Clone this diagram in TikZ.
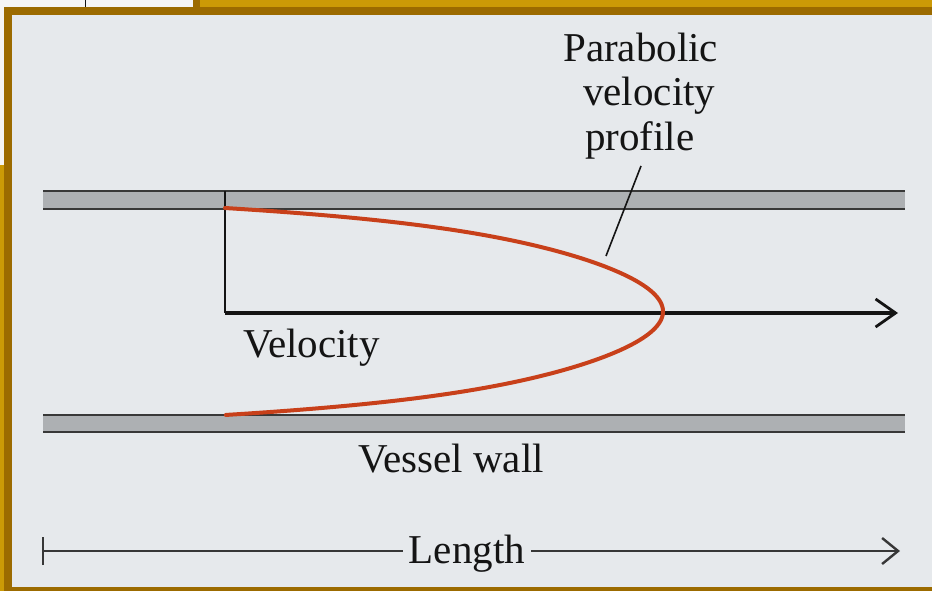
\documentclass[tikz,border=0pt]{standalone}
\usepackage{fontspec}
\setmainfont{Liberation Serif}
\usetikzlibrary{arrows.meta}
\definecolor{goldc}{HTML}{CC9A06}
\definecolor{brownc}{HTML}{9C6B00}
\definecolor{panelc}{HTML}{E6E9EC}
\definecolor{wallfill}{HTML}{ADB0B3}
\definecolor{wallline}{HTML}{383838}
\definecolor{profred}{HTML}{C8401A}
\definecolor{inkc}{HTML}{141414}
\tikzset{
  wallbar/.style={fill=wallfill, draw=none},
  walledge/.style={draw=wallline, line width=2.4pt},
  lbl/.style={font=\fontsize{41}{44}\selectfont, text=inkc, inner sep=0pt},
  axisline/.style={draw=inkc, line width=3.4pt, -{Straight Barb[length=20pt,width=28pt,line width=2.8pt]}},
  lenline/.style={draw=inkc!85, line width=2.2pt},
}
\begin{document}
\begin{tikzpicture}[x=1pt,y=-1pt]
\useasboundingbox (0,0) rectangle (932,591);
% frame
\fill[goldc] (0,0) rectangle (932,591);
\fill[white!92!gray] (0,0) rectangle (193,7);
\fill[white!92!gray] (0,0) rectangle (4,165);
\draw[inkc, line width=1pt] (85,0) -- (85,7);
\fill[brownc] (193,0) rectangle (200,7);
\fill[brownc] (4,7) rectangle (932,591);
\fill[panelc] (12,15) rectangle (932,587);
% walls
\fill[wallbar] (43,191) rectangle (905,209);
\draw[walledge] (43,191) -- (905,191);
\draw[walledge] (43,209) -- (905,209);
\fill[wallbar] (43,415) rectangle (905,432);
\draw[walledge] (43,415) -- (905,415);
\draw[walledge] (43,432) -- (905,432);
% axis
\coordinate (vtop) at (225,191);
\coordinate (orig) at (225,313);
\coordinate (vend) at (898,313);
\draw[inkc, line width=2.4pt] (vtop) -- (orig);
\draw[axisline] (orig) -- (vend);
% profile
\draw[profred, line width=4pt, line cap=round]
  plot[domain=-1:1, samples=161, smooth] ({225+438*(1-0.7*(\x)^2-0.3*(\x)^8)}, {311.5+103.5*\x});
% labels
\node[lbl, anchor=base west] (par1) at (563,62) {Parabolic};
\node[lbl, anchor=base west] (par2) at (583,106) {velocity};
\node[lbl, anchor=base west] (par3) at (585,150) {profile};
\coordinate (ptrtop) at (641,166);
\coordinate (ptrbot) at (606,256);
\draw[inkc, line width=1.6pt] (ptrtop) -- (ptrbot);
\node[lbl, anchor=base west] (vel) at (243,357) {Velocity};
\node[lbl, anchor=base west] (wall) at (358,472) {Vessel wall};
\node[lbl, anchor=base] (len) at (467,563) {Length};
\coordinate (lstart) at (42,551);
\coordinate (lend) at (900,551);
\draw[lenline, {Bar[width=28pt,line width=2.4pt]}-] (lstart) -- ([xshift=-6pt]len.west |- lstart);
\draw[lenline, -{Straight Barb[length=16pt,width=26pt,line width=2.4pt]}] ([xshift=6pt]len.east |- lend) -- (lend);
\end{tikzpicture}
\end{document}
